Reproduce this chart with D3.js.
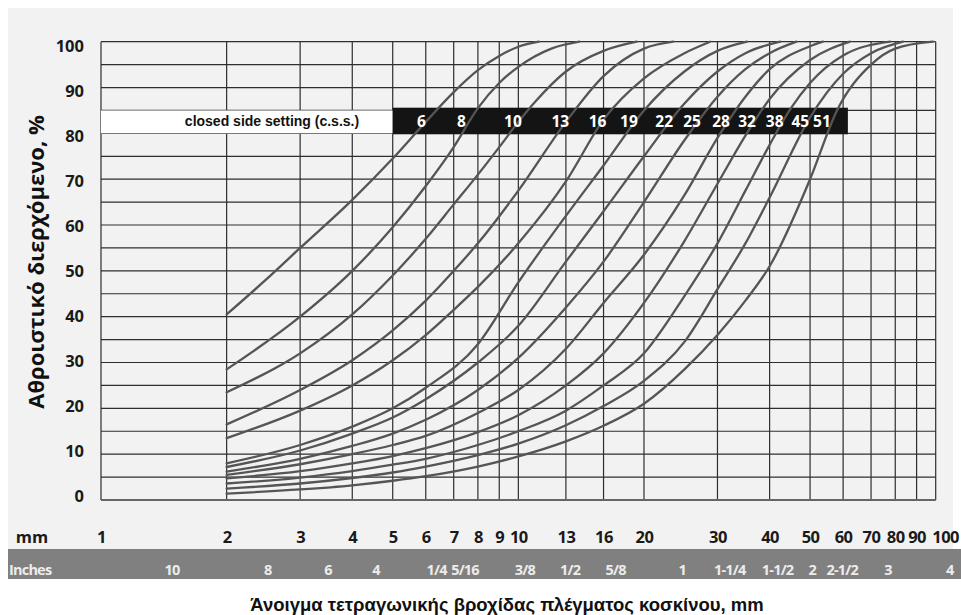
<!DOCTYPE html>
<html lang="el">
<head>
<meta charset="utf-8" />
<title>Κοκκομετρικές καμπύλες θραυστήρα</title>
<script src="https://cdn.jsdelivr.net/npm/d3@7"></script>
<style>
  body { margin: 0; background: #fff; }
  svg { display: block; }
  .grid line { stroke: #2e2e2e; stroke-width: 1.2px; }
  .curve { fill: none; stroke: #555; stroke-width: 2.3px; stroke-linecap: round; }
  .axis text { font: 700 16.5px "Open Sans", sans-serif; fill: #1a1a1a; }
  .axis path, .axis line { display: none; }
  .inch { font: 700 14.5px "Open Sans", sans-serif; fill: #ececec; letter-spacing: -0.8px; }
  .css-lab { font: 700 15.5px "Open Sans", sans-serif; fill: #fff; text-anchor: middle; }
  .css-title { font: bold 14px "Liberation Sans", Arial, sans-serif; fill: #111; text-anchor: middle; }
  .title { font: bold 18.5px "Liberation Sans", Arial, sans-serif; fill: #111; text-anchor: middle; }
  .ytitle { font: 700 22px "Open Sans", sans-serif; fill: #111; text-anchor: middle; }
</style>
</head>
<body>
<div id="chart"></div>
<script>
    var width = 961;
    var height = 615;

    // closed side setting of each curve, mm
    var cssLabels = ["6", "8", "10", "13", "16", "19", "22", "25", "28", "32", "38", "45", "51"];

    // cumulative passing [sieve mm, %], one array per setting
    var css6 = [[2, 40.5], [2.5, 48.3], [3, 55], [4, 65.5], [5, 74.5], [6, 82.5], [7, 89], [8, 93.8], [9, 96.9], [10, 98.9], [11.2, 100]];
    var css8 = [[2, 28.5], [3, 40], [4, 50], [5, 59.5], [6, 68.5], [7, 77], [8, 85.5], [9, 91], [10, 94.5], [12, 98.5], [14, 100]];
    var css10 = [[2, 23.5], [3, 32], [4, 40.5], [5, 49], [6, 57], [7, 64.5], [8, 71], [9, 77], [10, 82.5], [11, 87], [13, 93.5], [16, 98], [19.2, 100]];
    var css13 = [[2, 16.5], [3, 24], [4, 30.5], [5, 37], [6, 43.5], [7, 50], [8, 56], [10, 67.5], [13, 82.5], [16, 92.5], [20, 98.5], [23.5, 100]];
    var css16 = [[2, 13.5], [3, 19.5], [4, 25], [5, 30.5], [6, 36], [7, 41.5], [8, 46.5], [10, 56], [13, 69.5], [16, 83], [20, 92], [25, 97.5], [28.8, 100]];
    var css19 = [[2, 8], [3, 12], [4, 16], [5, 20], [6, 24.5], [8, 34], [10, 47.5], [13, 62], [16, 73], [20, 85], [25, 93.5], [30, 98], [35.3, 100]];
    var css22 = [[2, 7.2], [3, 10.8], [4, 14.5], [5, 18], [6, 22], [8, 30], [10, 38], [13, 52], [16, 63], [20, 75], [25, 86.5], [30, 93.5], [35, 97.5], [42.4, 100]];
    var css25 = [[2, 6.2], [3, 9], [4, 11.8], [5, 14.5], [6, 17.5], [8, 24], [10, 31], [13, 42], [16, 52], [20, 65], [25, 78.5], [30, 88], [35, 94], [40, 97.5], [46.4, 100]];
    var css28 = [[2, 5.5], [3, 7.8], [4, 10], [5, 12], [6, 14], [8, 19], [10, 24], [13, 33], [16, 43], [20, 53.5], [25, 66.5], [30, 79], [35, 88], [40, 94], [50, 99], [53.7, 100]];
    var css32 = [[2, 4.7], [3, 6.3], [4, 8], [5, 9.6], [6, 11.3], [8, 14.8], [10, 18.5], [13, 25], [16, 32], [20, 43], [25, 56.5], [30, 69], [35, 79.5], [40, 87.5], [50, 96], [62.3, 100]];
    var css38 = [[2, 3.6], [3, 4.9], [4, 6.3], [5, 7.7], [6, 9], [8, 12], [10, 15], [13, 19.5], [16, 25], [20, 32], [25, 44.5], [30, 56], [35, 67.5], [40, 77.5], [45, 85.5], [50, 91], [60, 97], [77.7, 100]];
    var css45 = [[2, 2.5], [3, 3.6], [4, 4.8], [5, 6], [6, 7.3], [8, 9.8], [10, 12.3], [13, 16.3], [16, 20.5], [20, 26], [25, 34.5], [30, 46], [35, 56], [40, 66], [50, 83.5], [60, 93], [70, 97.5], [83.5, 100]];
    var css51 = [[2, 1.4], [3, 2.3], [4, 3.2], [5, 4.2], [6, 5.2], [8, 7.3], [10, 9.5], [13, 12.8], [16, 16.2], [20, 21], [25, 28.5], [30, 36], [35, 43.5], [40, 51], [50, 70], [58, 85], [70, 95], [80, 98.5], [98.5, 100]];
    var curves = [css6, css8, css10, css13, css16, css19, css22, css25, css28, css32, css38, css45, css51];

    // sieve openings, mm (grid and labels)
    var mmTicks = [1, 2, 3, 4, 5, 6, 7, 8, 9, 10, 13, 16, 20, 30, 40, 50, 60, 70, 80, 90, 100];
    var pctTicks = [0, 10, 20, 30, 40, 50, 60, 70, 80, 90, 100];

    // inch / mesh labels and where they sit on the mm axis
    var inchLabels = ["10", "8", "6", "4", "1/4", "5/16", "3/8", "1/2", "5/8", "1", "1-1/4", "1-1/2", "2", "2-1/2", "3", "4"];
    var inchAt = [1.48, 2.51, 3.5, 4.56, 6.37, 7.45, 10.37, 13.3, 17.1, 24.7, 32.1, 41.8, 50.6, 59.7, 76.9, 108];

    var x = d3.scaleLog().domain([1, 100]).range([101, 935.7]);
    var y = d3.scaleLinear().domain([0, 100]).range([500, 41.7]);
    var yLab = d3.scaleLinear().domain([0, 100]).range([496, 46.5]);

    var svg = d3.select("#chart").append("svg")
        .attr("width", width)
        .attr("height", height);

    // light panel + inches band
    svg.append("rect").attr("x", 8).attr("y", 8).attr("width", 945).attr("height", 541).attr("fill", "#f2f2f2");
    svg.append("rect").attr("x", 8).attr("y", 549).attr("width", 953).attr("height", 30).attr("fill", "#808080");

    // grid
    var grid = svg.append("g").attr("class", "grid");
    grid.selectAll(".h").data(d3.range(0, 101, 5)).enter().append("line")
        .attr("x1", x(1)).attr("x2", x(100))
        .attr("y1", function (d) { return y(d); })
        .attr("y2", function (d) { return y(d); });
    grid.selectAll(".v").data(mmTicks).enter().append("line")
        .attr("x1", function (d) { return x(d); })
        .attr("x2", function (d) { return x(d); })
        .attr("y1", y(0)).attr("y2", y(100));
    grid.append("line").attr("x1", x(1)).attr("x2", x(100)).attr("y1", y(0)).attr("y2", y(0))
        .style("stroke", "#666").style("stroke-width", "2px");

    // c.s.s. legend strip
    svg.append("rect").attr("x", x(1)).attr("y", y(85)).attr("width", x(5) - x(1)).attr("height", y(80) - y(85)).attr("fill", "#fff");
    svg.append("rect").attr("x", x(5)).attr("y", y(85.6)).attr("width", x(61.6) - x(5)).attr("height", y(79.8) - y(85.6)).attr("fill", "#141414");

    // curves
    var line = d3.line()
        .x(function (d) { return x(d[0]); })
        .y(function (d) { return y(d[1]); })
        .curve(d3.curveMonotoneX);

    svg.selectAll(".curve").data(curves).enter().append("path")
        .attr("class", "curve")
        .attr("d", line);

    // where a curve crosses a given % (log interpolation)
    function crossing(pts, level) {
        for (var i = 1; i < pts.length; i++) {
            if (pts[i][1] >= level) {
                var a = pts[i - 1], b = pts[i];
                var t = (level - a[1]) / (b[1] - a[1]);
                return Math.pow(10, Math.log10(a[0]) + t * (Math.log10(b[0]) - Math.log10(a[0])));
            }
        }
        return pts[pts.length - 1][0];
    }

    svg.append("text").attr("class", "css-title")
        .attr("x", 272).attr("y", y(82.6)).attr("dy", "0.36em")
        .text("closed side setting (c.s.s.)");

    svg.selectAll(".css-lab").data(curves).enter().append("text")
        .attr("class", "css-lab")
        .attr("x", function (d) { return x(crossing(d, 85)) - 15; })
        .attr("y", y(82.7)).attr("dy", "0.36em")
        .text(function (d, i) { return cssLabels[i]; });

    // y axis
    svg.append("g").attr("class", "axis")
        .attr("transform", "translate(" + x(1) + ",0)")
        .call(d3.axisLeft(yLab).tickValues(pctTicks).tickSize(0).tickPadding(17));

    // mm axis
    var xAxis = svg.append("g").attr("class", "axis")
        .attr("transform", "translate(0,537)")
        .call(d3.axisBottom(x).tickValues(mmTicks).tickFormat(d3.format("d")).tickSize(0));
    xAxis.selectAll("text").attr("y", 0).attr("dy", "0.36em").style("letter-spacing", "-0.5px");
    xAxis.selectAll(".tick").filter(function (d) { return d === 100; })
        .select("text").attr("text-anchor", "start").attr("x", -4);
    svg.append("text").attr("class", "axis")
        .attr("x", 32).attr("y", 537).attr("dy", "0.36em")
        .attr("text-anchor", "middle")
        .style("font", "700 16.5px 'Open Sans', sans-serif").style("fill", "#1a1a1a")
        .text("mm");

    // inches band
    svg.append("text").attr("class", "inch")
        .attr("x", 9).attr("y", 570).attr("dy", "0.36em")
        .text("Inches");
    svg.selectAll(".inchlab").data(inchLabels).enter().append("text")
        .attr("class", "inch")
        .attr("text-anchor", "middle")
        .attr("x", function (d, i) { return x(inchAt[i]); })
        .attr("y", 570).attr("dy", "0.36em")
        .text(function (d) { return d; });

    // titles
    svg.append("text").attr("class", "title")
        .attr("x", 507).attr("y", 604).attr("dy", "0.36em")
        .text("Άνοιγμα τετραγωνικής βροχίδας πλέγματος κοσκίνου, mm");
    svg.append("text").attr("class", "ytitle")
        .attr("transform", "translate(36,262) rotate(-90)")
        .attr("dy", "0.36em")
        .text("Αθροιστικό διερχόμενο, %");
</script>
</body>
</html>
